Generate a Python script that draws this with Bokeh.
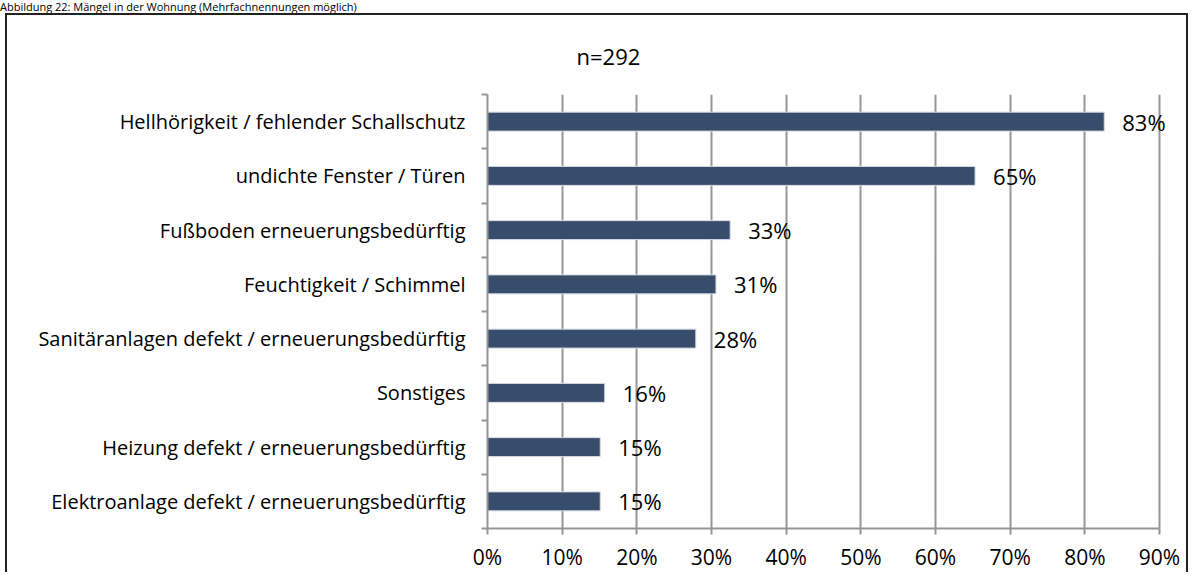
from bokeh.plotting import figure
from bokeh.models import (Range1d, FixedTicker, NumeralTickFormatter, LinearAxis,
                          ColumnDataSource, Div)
from bokeh.layouts import column
from bokeh.core.properties import value
from bokeh.embed import file_html
from bokeh.resources import INLINE

# ---------------- data ----------------
categories = [
    "Hellhörigkeit / fehlender Schallschutz",
    "undichte Fenster / Türen",
    "Fußboden erneuerungsbedürftig",
    "Feuchtigkeit / Schimmel",
    "Sanitäranlagen defekt / erneuerungsbedürftig",
    "Sonstiges",
    "Heizung defekt / erneuerungsbedürftig",
    "Elektroanlage defekt / erneuerungsbedürftig",
]
shares = [0.826, 0.653, 0.325, 0.306, 0.279, 0.157, 0.151, 0.151]
share_labels = ["83%", "65%", "33%", "31%", "28%", "16%", "15%", "15%"]
x_ticks = [0.0, 0.1, 0.2, 0.3, 0.4, 0.5, 0.6, 0.7, 0.8, 0.9]
sample_note = "n=292"
title_text = "Abbildung 22: Mängel in der Wohnung (Mehrfachnennungen möglich)"

# ---------------- layout (pixels) ----------------
CAP_H = 13          # caption strip above the framed box
BORDER = 2
OX = 5              # left margin of the framed box
W = 1192 - OX - 2 * BORDER
H = 574 - CAP_H - BORDER
CX0, CY0 = OX + BORDER, CAP_H + BORDER      # canvas origin on page
FL = 487 - CX0      # frame left (value 0)
F90 = 1159 - CX0    # position of 90 %
FT = 93 - CY0
FB = 528 - CY0
XMAX = x_ticks[-1]
X_END = XMAX + (W - F90) / (F90 - FL) * XMAX   # room for value labels
N = len(categories)
FONT = "Open Sans"
GRID = "#969696"
BAR = "#384C6B"
FRAME = "2px solid #222222"

pos = [i + 0.5 for i in range(N)]
src = ColumnDataSource(dict(cat=categories, pos=pos, val=shares, lab=share_labels))

p = figure(width=W, height=H, output_backend="svg", toolbar_location=None,
           x_range=Range1d(0, X_END), y_range=Range1d(N, 0),
           min_border_left=FL, min_border_right=0,
           min_border_top=FT, min_border_bottom=H - FB)
p.outline_line_color = None
p.background_fill_color = "white"
p.border_fill_color = "white"
p.margin = (0, 0, 0, OX)
p.styles = {"border-top": FRAME, "border-left": FRAME, "border-right": FRAME}

# sample size note as title
p.title.text = sample_note
p.title.align = "left"
p.title.offset = 576 - 487
p.title.standoff = 47
p.title.text_font = FONT
p.title.text_font_size = "22px"
p.title.text_font_style = "normal"
p.title.text_color = "black"

# x axis + grid
p.xaxis.ticker = FixedTicker(ticks=x_ticks)
p.xaxis.bounds = (0, XMAX)
p.xaxis.formatter = NumeralTickFormatter(format="0%")
p.xaxis.axis_line_color = GRID
p.xaxis.axis_line_width = 2
p.xaxis.major_tick_line_color = GRID
p.xaxis.major_tick_line_width = 2
p.xaxis.major_tick_out = 6
p.xaxis.major_tick_in = 0
p.xaxis.minor_tick_line_color = None
p.xaxis.major_label_text_font = FONT
p.xaxis.major_label_text_font_size = "21px"
p.xaxis.major_label_text_color = "black"
p.xaxis.major_label_standoff = 8

p.xgrid.ticker = FixedTicker(ticks=x_ticks)
p.xgrid.grid_line_color = GRID
p.xgrid.grid_line_width = 2
p.ygrid.visible = False

# y axis: tick marks at category boundaries (no labels)
p.yaxis.ticker = FixedTicker(ticks=list(range(N + 1)))
p.yaxis.major_label_overrides = {i: "" for i in range(N + 1)}
p.yaxis.axis_line_color = GRID
p.yaxis.axis_line_width = 2
p.yaxis.major_tick_line_color = GRID
p.yaxis.major_tick_line_width = 2
p.yaxis.major_tick_out = 6
p.yaxis.major_tick_in = 0
p.yaxis.minor_tick_line_color = None
p.yaxis.major_label_standoff = 0

# y axis with category labels at centers
lab_axis = LinearAxis(ticker=FixedTicker(ticks=pos),
                      major_label_overrides={pp: c for pp, c in zip(pos, categories)})
lab_axis.axis_line_color = None
lab_axis.major_tick_line_color = None
lab_axis.minor_tick_line_color = None
lab_axis.major_label_standoff = 10
lab_axis.major_label_text_font = FONT
lab_axis.major_label_text_font_size = "20px"
lab_axis.major_label_text_color = "black"
p.add_layout(lab_axis, "left")

# bars
p.hbar(y="pos", left=0, right="val", height=0.35, source=src,
       fill_color=BAR, line_color="#d5dbe4", line_width=1)

# value labels
p.text(x="val", y="pos", text="lab", source=src, x_offset=18,
       text_baseline="middle", text_align="left",
       text_font=value(FONT), text_font_size="22px", text_color="black")

caption = Div(text=title_text, width=1192, height=CAP_H, margin=0,
              styles={"font-family": FONT, "font-size": "11px", "line-height": "13px",
                      "white-space": "nowrap", "color": "black"})

layout = column(caption, p, spacing=0)
open("out.html", "w").write(file_html(layout, INLINE))
